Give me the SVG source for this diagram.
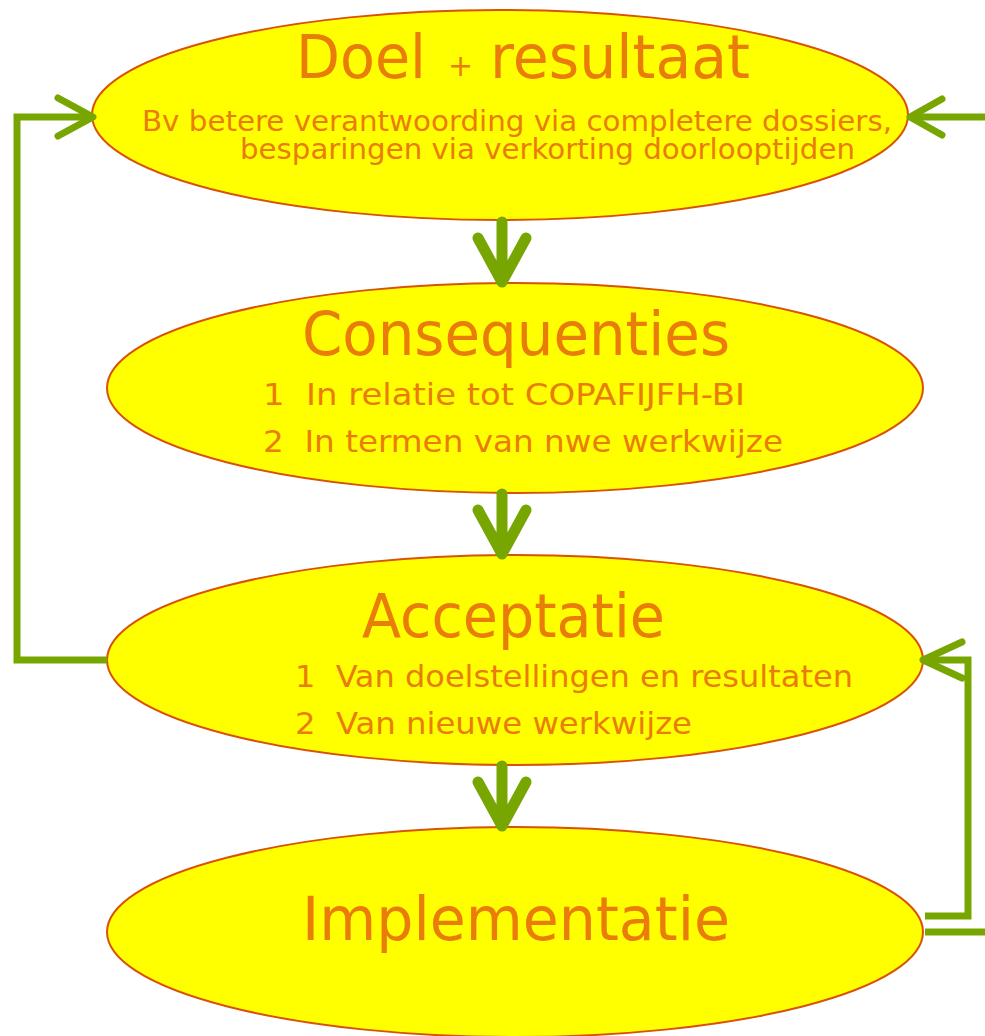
<svg xmlns="http://www.w3.org/2000/svg" width="985" height="1036" viewBox="0 0 985 1036">
<style>
.node ellipse{fill:#FFFF00;stroke:#D9520A;stroke-width:2}
text{font-family:"DejaVu Sans Condensed","DejaVu Sans","Verdana",sans-serif;fill:#EA7D0A}
.t{font-size:60px;font-family:"DejaVu Sans",sans-serif}
.s{font-size:28px}
.m{font-size:31px}
.c path{fill:none;stroke:#78A600;stroke-linecap:round;stroke-linejoin:round}
.big{stroke-width:11}
.thin{stroke-width:7}
</style>
<rect width="985" height="1036" fill="#FFFFFF"/>
<g id="node-doel" class="node">
<ellipse cx="500" cy="115" rx="408" ry="105"/>
<text x="296" y="78" class="t" textLength="130" lengthAdjust="spacingAndGlyphs">Doel</text>
<text x="448" y="76" style="font-size:30px;font-family:'DejaVu Sans',sans-serif">+</text>
<text x="490" y="78" class="t" textLength="260" lengthAdjust="spacingAndGlyphs">resultaat</text>
<text x="142" y="131" class="s" textLength="750" lengthAdjust="spacingAndGlyphs">Bv betere verantwoording via completere dossiers,</text>
<text x="240" y="159" class="s" textLength="615" lengthAdjust="spacingAndGlyphs">besparingen via verkorting doorlooptijden</text>
</g>
<g id="node-consequenties" class="node">
<ellipse cx="515" cy="388" rx="408" ry="105"/>
<text x="302" y="355" class="t" textLength="428" lengthAdjust="spacingAndGlyphs">Consequenties</text>
<text x="263" y="405" class="m" xml:space="preserve" textLength="482" lengthAdjust="spacingAndGlyphs">1  In relatie tot COPAFIJFH-BI</text>
<text x="263" y="452" class="m" xml:space="preserve" textLength="520" lengthAdjust="spacingAndGlyphs">2  In termen van nwe werkwijze</text>
</g>
<g id="node-acceptatie" class="node">
<ellipse cx="515" cy="660" rx="408" ry="105"/>
<text x="362" y="637" class="t" textLength="303" lengthAdjust="spacingAndGlyphs">Acceptatie</text>
<text x="295" y="687" class="m" xml:space="preserve" textLength="558" lengthAdjust="spacingAndGlyphs">1  Van doelstellingen en resultaten</text>
<text x="295" y="734" class="m" xml:space="preserve" textLength="397" lengthAdjust="spacingAndGlyphs">2  Van nieuwe werkwijze</text>
</g>
<g id="node-implementatie" class="node">
<ellipse cx="515" cy="932" rx="408" ry="105"/>
<text x="302" y="940" class="t" textLength="428" lengthAdjust="spacingAndGlyphs">Implementatie</text>
</g>
<g id="connectors" class="c">
<path class="big" d="M502 222V282M478 238L502 282L526 238"/>
<path class="big" d="M502 494V554M478 510L502 554L526 510"/>
<path class="big" d="M502 766V826M478 782L502 826L526 782"/>
<path class="thin" style="stroke-linecap:butt;stroke-linejoin:miter" d="M107 660H17V117H93"/>
<path class="thin" d="M58 98L93 117L58 136"/>
<path class="thin" style="stroke-linecap:butt" d="M985 117H910"/>
<path class="thin" d="M942 99L910 117L942 135"/>
<path class="thin" style="stroke-linecap:butt;stroke-linejoin:miter" d="M923 660H968V916H925"/>
<path class="thin" d="M962 642L923 660L962 678"/>
<path class="thin" style="stroke-linecap:butt" d="M925 932H985"/>
</g>
</svg>
